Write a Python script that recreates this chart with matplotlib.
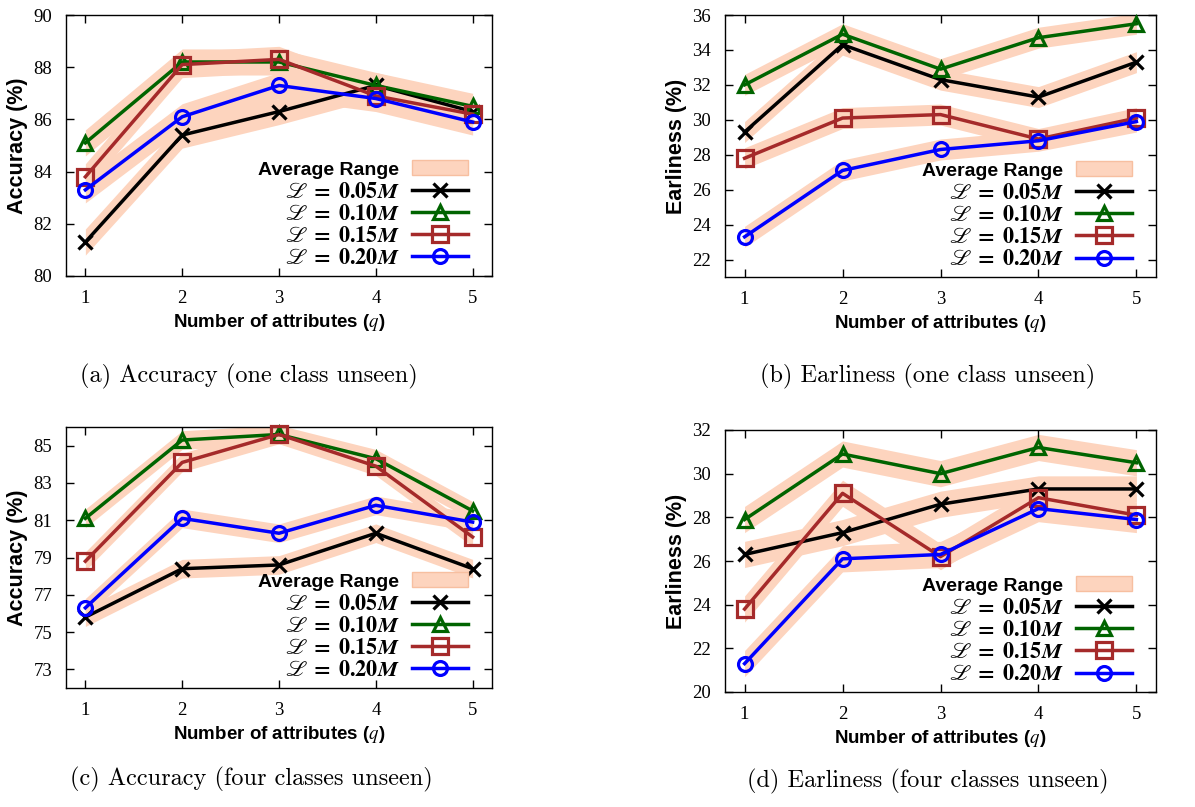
import matplotlib
matplotlib.use("Agg")
import matplotlib.pyplot as plt
from matplotlib.lines import Line2D
from matplotlib.patches import Patch

plt.rcParams["mathtext.fontset"] = "stix"

q = [1, 2, 3, 4, 5]
ratios = ["0.05", "0.10", "0.15", "0.20"]

# (a) accuracy, one class unseen
acc_one_005 = [81.3, 85.4, 86.3, 87.3, 86.3]
acc_one_010 = [85.1, 88.2, 88.2, 87.3, 86.5]
acc_one_015 = [83.8, 88.1, 88.3, 86.9, 86.2]
acc_one_020 = [83.3, 86.1, 87.3, 86.8, 85.9]

# (b) earliness, one class unseen
ear_one_005 = [29.3, 34.3, 32.3, 31.3, 33.3]
ear_one_010 = [32.0, 34.9, 32.9, 34.7, 35.5]
ear_one_015 = [27.8, 30.1, 30.3, 28.9, 30.1]
ear_one_020 = [23.3, 27.1, 28.3, 28.8, 29.9]

# (c) accuracy, four classes unseen
acc_four_005 = [75.8, 78.4, 78.6, 80.3, 78.4]
acc_four_010 = [81.1, 85.3, 85.6, 84.3, 81.5]
acc_four_015 = [78.8, 84.1, 85.6, 83.9, 80.1]
acc_four_020 = [76.3, 81.1, 80.3, 81.8, 80.9]

# (d) earliness, four classes unseen
ear_four_005 = [26.3, 27.3, 28.6, 29.3, 29.3]
ear_four_010 = [27.9, 30.9, 30.0, 31.2, 30.5]
ear_four_015 = [23.8, 29.1, 26.2, 28.9, 28.1]
ear_four_020 = [21.3, 26.1, 26.3, 28.4, 27.9]

# half width of the "average range" band
band_a = 0.5
band_b = 0.6
band_c = 0.5
band_d = 0.6

colors = ["black", "#006400", "#A52A2A", "#0000FF"]
markers = ["x", "^", "s", "o"]
msizes = [9.5, 10.5, 11, 10]
band_color = "#FDD4BE"

W, H = 1195, 807
fig = plt.figure(figsize=(W / 100, H / 100), dpi=100)


def px_axes(left, top, right, bottom):
    return fig.add_axes([left / W, 1 - bottom / H, (right - left) / W, (bottom - top) / H])


def draw_panel(ax, series, band, ylim, yticks, ylabel):
    for y in series:
        ax.fill_between(q, [v - band for v in y], [v + band for v in y],
                        color=band_color, lw=0, zorder=1)
    for y, c, m, ms in zip(series, colors, markers, msizes):
        ax.plot(q, y, color=c, lw=2.5, marker=m, ms=ms, mew=2.3,
                mfc="none", zorder=3, clip_on=False)
    ax.set_xlim(0.8, 5.2)
    ax.set_ylim(*ylim)
    ax.set_xticks(q)
    ax.set_yticks(yticks)
    ax.tick_params(direction="in", top=True, right=True, length=6, width=1,
                   pad=10, labelsize=13.5)
    for lab in ax.get_xticklabels() + ax.get_yticklabels():
        lab.set_fontfamily("Liberation Serif")
    for s in ax.spines.values():
        s.set_linewidth(1)
    ax.set_xlabel(r"Number of attributes ($q$)", fontsize=13.5,
                  fontweight="bold", family="Liberation Sans", labelpad=4)
    ax.set_ylabel(ylabel, fontsize=15.5, fontweight="bold",
                  family="Liberation Sans", labelpad=4)

    handles = [Patch(facecolor=band_color, edgecolor="#F7BFA0", lw=1)]
    labels = ["Average Range"]
    for r, c, m, ms in zip(ratios, colors, markers, msizes):
        handles.append(Line2D([], [], color=c, lw=2.5, marker=m, ms=ms,
                              mew=2.3, mfc="none"))
        labels.append(r"$\mathscr{L}\;\mathbf{=}\;\mathbf{" + r + r"}\mathbfit{M}$")
    leg = ax.legend(handles, labels, loc="lower right",
                    bbox_to_anchor=(0.98, -0.03), frameon=False,
                    markerfirst=False, fontsize=16, handlelength=2.5,
                    handletextpad=0.6, labelspacing=0.1, borderpad=0.2)
    leg.get_texts()[0].set_fontfamily("Liberation Sans")
    leg.get_texts()[0].set_fontweight("bold")
    leg.get_texts()[0].set_fontsize(14)


ax_a = px_axes(66, 15, 492, 276)
draw_panel(ax_a, [acc_one_005, acc_one_010, acc_one_015, acc_one_020],
           band_a, (80, 90), range(80, 91, 2), "Accuracy (%)")

ax_b = px_axes(725, 15, 1156, 277)
draw_panel(ax_b, [ear_one_005, ear_one_010, ear_one_015, ear_one_020],
           band_b, (21, 36), range(22, 37, 2), "Earliness (%)")

ax_c = px_axes(66, 427, 492, 688)
draw_panel(ax_c, [acc_four_005, acc_four_010, acc_four_015, acc_four_020],
           band_c, (72, 86), range(73, 86, 2), "Accuracy (%)")

ax_d = px_axes(725, 430, 1156, 692)
draw_panel(ax_d, [ear_four_005, ear_four_010, ear_four_015, ear_four_020],
           band_d, (20, 32), range(20, 33, 2), "Earliness (%)")

captions = [
    (249, 376, "(a) Accuracy (one class unseen)"),
    (928, 376, "(b) Earliness (one class unseen)"),
    (251, 779, "(c) Accuracy (four classes unseen)"),
    (928, 781, "(d) Earliness (four classes unseen)"),
]
for x, y, t in captions:
    fig.text(x / W, 1 - y / H, t, ha="center", va="center",
             fontsize=17.5, family="cmr10")

fig.savefig("out.png", dpi=100)
